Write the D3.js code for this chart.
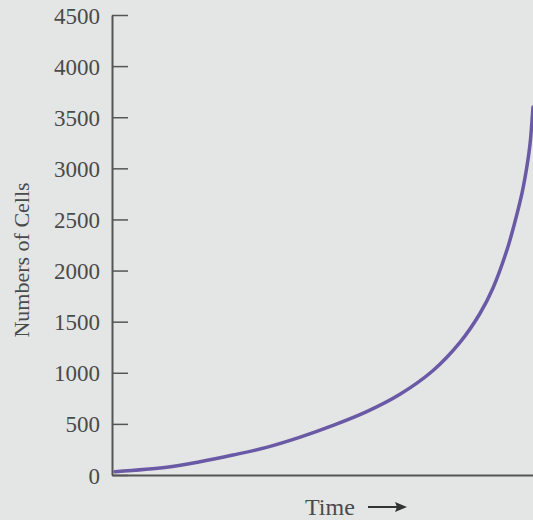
<!DOCTYPE html>
<html>
<head>
<meta charset="utf-8">
<script src="https://cdn.jsdelivr.net/npm/d3@7"></script>
<style>
  html, body { margin: 0; padding: 0; background: #e4e5e5; }
  svg { display: block; }
</style>
</head>
<body>
<script>
// Data (time in arbitrary units 0..10)
const time  = [0.07, 1.3, 2.09, 2.87, 3.67, 4.47, 5.25, 6.05, 6.84, 7.62, 8.27, 8.74, 9.05, 9.38, 9.57, 9.74, 9.86, 9.93, 10];
const cells = [32, 75, 130, 195, 270, 370, 485, 620, 790, 1020, 1300, 1580, 1830, 2200, 2475, 2760, 3030, 3240, 3600];
const yTicks = [0, 500, 1000, 1500, 2000, 2500, 3000, 3500, 4000, 4500];
const yLabel = "Numbers of Cells";
const xLabel = "Time";

const W = 533, H = 520;
const svg = d3.select("body").append("svg").attr("width", W).attr("height", H);

svg.append("rect").attr("width", W).attr("height", H).attr("fill", "#e4e5e5");

const x = d3.scaleLinear().domain([0, 10]).range([112, 533]);
const y = d3.scaleLinear().domain([0, 4500]).range([475, 15]);

const axisColor = "#555";
const textColor = "#4a4a4a";
const font = "'Liberation Serif', 'Times New Roman', serif";

// Y axis
const yAxis = svg.append("g")
  .attr("transform", `translate(${x(0)},0)`)
  .call(d3.axisLeft(y).tickValues(yTicks).tickSizeInner(-16).tickSizeOuter(0).tickPadding(12).tickFormat(d3.format("d")));
yAxis.select(".domain").attr("stroke", axisColor).attr("stroke-width", 2);
yAxis.selectAll(".tick line").attr("stroke", axisColor).attr("stroke-width", 1.5);
yAxis.selectAll(".tick text")
  .attr("fill", textColor).style("font-family", font).style("font-size", "23px")
  .attr("dy", "0.35em");

// X axis (line only)
const xAxis = svg.append("g")
  .attr("transform", `translate(0,${y(0)})`)
  .call(d3.axisBottom(x).tickValues([]).tickSizeOuter(0));
xAxis.select(".domain").attr("stroke", axisColor).attr("stroke-width", 2);

// Curve
const line = d3.line()
  .x((d, i) => x(time[i]))
  .y(d => y(d))
  .curve(d3.curveCatmullRom.alpha(0.5));
svg.append("path")
  .datum(cells)
  .attr("d", line)
  .attr("fill", "none")
  .attr("stroke", "#6a5aa6")
  .attr("stroke-width", 3.5)
  .attr("stroke-linecap", "round");

// Y label
svg.append("text")
  .attr("transform", "translate(29,260) rotate(-90)")
  .attr("text-anchor", "middle")
  .attr("fill", textColor)
  .style("font-family", font).style("font-size", "22px")
  .text(yLabel);

// X label with arrow
svg.append("text")
  .attr("x", 305).attr("y", 515)
  .attr("fill", textColor)
  .style("font-family", font).style("font-size", "24px")
  .text(xLabel);

svg.append("line")
  .attr("x1", 368).attr("x2", 398).attr("y1", 507).attr("y2", 507)
  .attr("stroke", "#333").attr("stroke-width", 2);
svg.append("path")
  .attr("d", "M407,507 L395,502 L397,507 L395,512 Z")
  .attr("fill", "#333");
</script>
</body>
</html>
